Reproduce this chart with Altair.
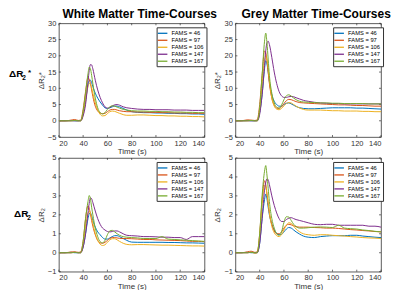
import altair as alt
import pandas as pd

T = [20, 25, 30, 33, 36, 38, 40, 42, 44, 45, 46, 47, 48, 50, 52, 54, 56, 58, 60, 62, 64, 66, 68, 70,
     73, 76, 80, 85, 90, 95, 100, 105, 110, 115, 120, 125, 130, 135, 140]
FAMS = ["FAMS = 46", "FAMS = 97", "FAMS = 106", "FAMS = 147", "FAMS = 167"]
COLORS = ["#0072BD", "#D95319", "#EDB120", "#7E2F8E", "#77AC30"]
XTICKS = [20, 40, 60, 80, 100, 120, 140]
YTICKS_STAR = [-5, 0, 5, 10, 15, 20, 25, 30]
YTICKS_R2 = [-1, 0, 1, 2, 3, 4, 5]

# White matter, dR2*
WS_46 = [0, 0, 0.1, 0, 0, 0.1, 2, 6, 11, 12.3, 12.5, 11.8, 10.5, 8.5, 7, 5.8, 4.8, 4, 3.8, 4, 4.3, 4.5, 4.5, 4.3, 3.8, 3.3, 2.8, 2.6, 2.5, 2.5, 2.4, 2.4, 2.3, 2.3, 2.2, 2.2, 2.1, 2.1, 2.0]
WS_97 = [0, 0, 0.2, 0.4, 0.1, 0.2, 3.5, 9, 13.2, 12.8, 11.5, 9.5, 7.5, 4.5, 3, 2.4, 2.2, 2.3, 2.8, 3.3, 3.5, 3.5, 3.3, 3.1, 2.9, 2.8, 2.8, 2.7, 2.7, 2.6, 2.6, 2.5, 2.5, 2.4, 2.4, 2.4, 2.3, 2.3, 2.3]
WS_106 = [0, 0, 0, 0.1, 0, 0, 2, 6.5, 10.5, 11.5, 11.3, 10.2, 8.5, 5.5, 3.3, 2, 1.5, 1.6, 2.2, 2.8, 3, 2.9, 2.6, 2.3, 1.9, 1.7, 1.7, 1.8, 1.8, 1.7, 1.6, 1.6, 1.5, 1.5, 1.4, 1.4, 1.3, 1.3, 1.2]
WS_147 = [0, 0, 0, 0, 0, 0, 1.5, 5, 12, 15.5, 17.3, 17.2, 16, 12.5, 9.5, 7.2, 5.5, 4.3, 3.9, 4.1, 4.6, 4.9, 5, 4.8, 4.3, 4, 3.8, 3.6, 3.5, 3.5, 3.4, 3.4, 3.4, 3.3, 3.3, 3.3, 3.2, 3.2, 3.2]
WS_167 = [0, 0, 0, 0.1, 0, 0, 3, 8.5, 14.5, 16.5, 16, 14, 11.5, 7, 4, 2.5, 2.1, 2.5, 3.5, 4.3, 4.6, 4.5, 4.2, 3.9, 3.5, 3.3, 3.1, 3, 3, 2.9, 2.9, 2.8, 2.8, 2.7, 2.7, 2.6, 2.6, 2.5, 2.5]

# Grey matter, dR2*
GS_46 = [0, 0, 0.1, 0, 0, 0.1, 2.5, 8, 16, 18.5, 17.5, 15, 12, 8, 6, 5, 4.5, 4.5, 5, 5.4, 5.5, 5.2, 4.8, 4.4, 4, 3.8, 3.7, 3.7, 3.8, 3.9, 4, 4, 4, 4, 3.9, 3.9, 3.8, 3.7, 3.6]
GS_97 = [0, 0, 0.3, 0.2, 0.1, 0.3, 5, 14, 21.5, 21, 18.5, 15, 11.5, 7, 4.8, 3.9, 3.8, 4.3, 5.3, 6.2, 6.6, 6.5, 6.2, 5.9, 5.6, 5.5, 5.4, 5.3, 5.2, 5.1, 5, 4.9, 4.9, 4.8, 4.7, 4.7, 4.6, 4.5, 4.5]
GS_106 = [0, 0, 0, 0.1, 0, 0, 3, 11, 18.5, 20, 19, 16, 12.5, 7, 4.5, 3.6, 3.4, 3.8, 4.6, 5.3, 5.6, 5.5, 5, 4.5, 3.9, 3.5, 3.3, 3.3, 3.3, 3.2, 3.1, 3.1, 3, 3, 3, 2.9, 2.9, 2.8, 2.8]
GS_147 = [0, 0, 0, 0, 0, 0, 2, 8, 17, 21.5, 24, 24.5, 23.5, 19.5, 15, 11.5, 9, 7.7, 7.2, 7.2, 7.4, 7.5, 7.4, 7.1, 6.7, 6.3, 6, 5.7, 5.5, 5.4, 5.3, 5.3, 5.2, 5.2, 5.2, 5.2, 5.2, 5.2, 5.2]
GS_167 = [0, 0, 0, 0.1, 0, 0, 4, 14, 24.5, 27, 24, 19, 14, 8.5, 5.5, 4.2, 3.9, 4.8, 6.5, 7.7, 8, 7.6, 7, 6.5, 6, 5.8, 5.7, 5.6, 5.5, 5.5, 5.4, 5.4, 5.3, 5.3, 5.3, 5.3, 5.2, 5.2, 5.2]

# White matter, dR2
WR_46 = [0, 0, 0.02, 0, 0, 0.02, 0.3, 1, 1.8, 2.05, 2.1, 1.95, 1.7, 1.35, 1.1, 0.95, 0.8, 0.72, 0.72, 0.78, 0.85, 0.9, 0.9, 0.85, 0.75, 0.65, 0.56, 0.55, 0.55, 0.55, 0.55, 0.55, 0.54, 0.54, 0.53, 0.52, 0.52, 0.51, 0.5]
WR_97 = [0, 0, 0.04, 0.05, 0.02, 0.05, 0.6, 1.8, 2.48, 2.35, 2.05, 1.7, 1.4, 0.95, 0.65, 0.52, 0.5, 0.55, 0.65, 0.75, 0.8, 0.8, 0.78, 0.76, 0.75, 0.75, 0.74, 0.72, 0.7, 0.7, 0.68, 0.67, 0.66, 0.65, 0.64, 0.62, 0.6, 0.6, 0.58]
WR_106 = [0, 0, 0, 0.02, 0, 0, 0.4, 1.4, 2.05, 2.2, 2.1, 1.85, 1.55, 1, 0.65, 0.45, 0.38, 0.42, 0.55, 0.68, 0.74, 0.74, 0.68, 0.6, 0.5, 0.44, 0.42, 0.43, 0.43, 0.42, 0.41, 0.4, 0.4, 0.39, 0.38, 0.37, 0.36, 0.36, 0.35]
WR_147 = [0, 0, 0, 0.02, 0, 0, 0.3, 1, 2.1, 2.6, 2.9, 2.85, 2.65, 2.2, 1.8, 1.5, 1.3, 1.2, 1.12, 1.1, 1.12, 1.15, 1.15, 1.1, 1.0, 0.92, 0.9, 0.88, 0.85, 0.85, 0.84, 0.82, 0.82, 0.8, 0.8, 0.7, 0.85, 0.85, 0.85]
WR_167 = [0, 0, 0, 0.02, 0, 0, 0.6, 1.8, 2.7, 3.02, 2.85, 2.4, 2, 1.3, 0.85, 0.58, 0.52, 0.65, 0.95, 1.15, 1.18, 1.1, 1.0, 0.92, 0.85, 0.82, 0.8, 0.78, 0.75, 0.75, 0.75, 0.85, 0.72, 0.7, 0.68, 0.66, 0.64, 0.62, 0.6]

# Grey matter, dR2
GR_46 = [0, 0, 0.02, 0, 0, 0.02, 0.5, 1.8, 2.8, 3.1, 2.85, 2.4, 2, 1.5, 1.2, 1.02, 0.95, 0.97, 1.1, 1.25, 1.33, 1.3, 1.2, 1.1, 0.98, 0.88, 0.82, 0.8, 0.85, 0.88, 0.9, 0.9, 0.9, 0.92, 0.92, 0.88, 0.85, 0.82, 0.8]
GR_97 = [0, 0, 0.05, 0.08, 0.02, 0.05, 1, 2.8, 3.8, 3.6, 3.1, 2.6, 2.1, 1.5, 1.15, 1.0, 1.0, 1.1, 1.3, 1.45, 1.5, 1.47, 1.42, 1.38, 1.35, 1.35, 1.35, 1.33, 1.32, 1.3, 1.3, 1.28, 1.25, 1.22, 1.2, 1.17, 1.15, 1.12, 1.1]
GR_106 = [0, 0, 0, 0.03, -0.03, 0, 0.9, 2.6, 3.55, 3.5, 3.1, 2.6, 2.1, 1.4, 1.05, 0.9, 0.85, 0.95, 1.2, 1.45, 1.58, 1.55, 1.4, 1.25, 1.1, 1.0, 0.95, 0.92, 0.95, 0.95, 0.92, 0.9, 0.88, 0.85, 0.83, 0.8, 0.78, 0.77, 0.75]
GR_147 = [0, 0, 0, 0.02, 0, 0, 0.5, 1.8, 3.3, 3.7, 3.9, 3.85, 3.6, 3.0, 2.5, 2.1, 1.8, 1.65, 1.65, 1.75, 1.82, 1.85, 1.8, 1.75, 1.7, 1.65, 1.58, 1.5, 1.48, 1.5, 1.5, 1.45, 1.45, 1.45, 1.45, 1.45, 1.4, 1.4, 1.35]
GR_167 = [0, 0, 0, 0.02, 0, 0, 1, 3, 4.3, 4.6, 4.1, 3.4, 2.7, 1.8, 1.3, 1.0, 0.92, 1.1, 1.6, 1.9, 1.88, 1.7, 1.5, 1.38, 1.3, 1.3, 1.32, 1.35, 1.36, 1.35, 1.33, 1.45, 1.3, 1.27, 1.25, 1.2, 1.17, 1.13, 1.1]

W, H = 146, 114
FONT = "Liberation Sans"
AX = "#333333"


def make_df(series):
    rows = []
    for name, vals in zip(FAMS, series):
        for t, v in zip(T, vals):
            rows.append({"t": t, "v": v, "s": name})
    return pd.DataFrame(rows)


def panel(series, ydom, yticks, ytitle, title=None, row_label=None):
    df = make_df(series)
    X = alt.X("t:Q", scale=alt.Scale(domain=[20, 140], nice=False),
              axis=alt.Axis(values=XTICKS, title="Time (s)", labelPadding=2, titlePadding=1))
    Y = alt.Y("v:Q", scale=alt.Scale(domain=ydom, nice=False),
              axis=alt.Axis(values=yticks, title=ytitle, labelPadding=3, titlePadding=2))
    lines = alt.Chart(df).mark_line(strokeWidth=1, interpolate="monotone", clip=True).encode(
        x=X, y=Y,
        color=alt.Color("s:N", scale=alt.Scale(domain=FAMS, range=COLORS),
                        legend=alt.Legend(title=None, orient="none", legendX=98, legendY=4)),
    )
    xt = pd.DataFrame({"t": XTICKS})
    yt = pd.DataFrame({"v": yticks})
    tb = alt.Chart(xt).mark_rule(color=AX, strokeWidth=0.7).encode(x=X, y=alt.value(H), y2=alt.value(H - 2))
    tt = alt.Chart(xt).mark_rule(color=AX, strokeWidth=0.7).encode(x=X, y=alt.value(0), y2=alt.value(2))
    tl = alt.Chart(yt).mark_rule(color=AX, strokeWidth=0.7).encode(y=Y, x=alt.value(0), x2=alt.value(2))
    tr = alt.Chart(yt).mark_rule(color=AX, strokeWidth=0.7).encode(y=Y, x=alt.value(W), x2=alt.value(W - 2))
    layers = [tb, tt, tl, tr, lines]
    if row_label is not None:
        lx, ly, sup = row_label
        layers.append(alt.Chart(pd.DataFrame({"s": ["ΔR"]})).mark_text(
            font=FONT, fontSize=10, fontWeight="bold", align="left", baseline="alphabetic", color="black"
        ).encode(text="s:N", x=alt.value(lx), y=alt.value(ly)))
        layers.append(alt.Chart(pd.DataFrame({"s": ["2"]})).mark_text(
            font=FONT, fontSize=6.5, fontWeight="bold", align="left", baseline="alphabetic", color="black"
        ).encode(text="s:N", x=alt.value(lx + 13.3), y=alt.value(ly + 3)))
        if sup:
            layers.append(alt.Chart(pd.DataFrame({"s": ["*"]})).mark_text(
                font=FONT, fontSize=8, fontWeight="bold", align="left", baseline="alphabetic", color="black"
            ).encode(text="s:N", x=alt.value(lx + 19), y=alt.value(ly - 2)))
    ch = alt.layer(*layers).properties(width=W, height=H)
    if title:
        ch = ch.properties(title=alt.TitleParams(title, fontSize=12, fontWeight="bold", font=FONT,
                                                 color="black", baseline="alphabetic", offset=-11, dx=8))
    return ch


p1 = panel([WS_46, WS_97, WS_106, WS_147, WS_167], [-5, 30], YTICKS_STAR, "ΔR₂*",
           "White Matter Time-Courses", (-50, 54, True))
p2 = panel([GS_46, GS_97, GS_106, GS_147, GS_167], [-5, 30], YTICKS_STAR, "ΔR₂*",
           "Grey Matter Time-Courses")
p3 = panel([WR_46, WR_97, WR_106, WR_147, WR_167], [-1, 5], YTICKS_R2, "ΔR₂",
           None, (-45, 59, False))
p4 = panel([GR_46, GR_97, GR_106, GR_147, GR_167], [-1, 5], YTICKS_R2, "ΔR₂")

chart = alt.concat(p1, p2, p3, p4, columns=2, spacing=alt.RowColnumber(row=21, column=31),
                   bounds="flush").resolve_legend(color="independent").properties(
    padding={"left": 0, "top": -1, "right": 0, "bottom": 0},
    background="white",
).configure_view(stroke=AX, strokeWidth=0.8).configure_axis(
    grid=False, ticks=False, domain=False,
    labelFont=FONT, labelFontSize=7.5, labelColor=AX,
    titleFont=FONT, titleFontSize=8, titleColor=AX, titleFontWeight="normal",
).configure_legend(
    strokeColor=AX, fillColor="white", padding=2, symbolType="M-1.6,0H1.6", symbolStrokeWidth=1.3,
    symbolSize=36, labelFontSize=5.8, labelFont=FONT, labelColor="black", rowPadding=0, labelOffset=5,
)

chart.save("out.html", embed_options={"renderer": "svg", "actions": False})
